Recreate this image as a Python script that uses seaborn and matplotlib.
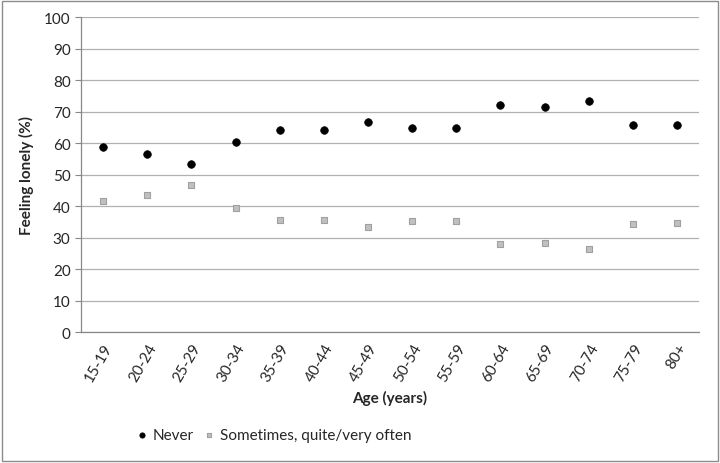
import seaborn as sns
import matplotlib.pyplot as plt
import pandas as pd
from matplotlib.patches import Rectangle
from matplotlib.ticker import FixedLocator

age_groups = ['15-19', '20-24', '25-29', '30-34', '35-39', '40-44', '45-49',
              '50-54', '55-59', '60-64', '65-69', '70-74', '75-79', '80+']
never = [58.6, 56.5, 53.2, 60.4, 64.3, 64.3, 66.8, 64.9, 64.9, 72.2, 71.5, 73.5, 65.6, 65.6]
sometimes = [41.5, 43.5, 46.8, 39.4, 35.6, 35.6, 33.2, 35.1, 35.1, 27.9, 28.4, 26.4, 34.3, 34.5]

sns.set_style("white")
plt.rcParams['font.family'] = ['Lato', 'DejaVu Sans']

df = pd.DataFrame({'age': age_groups, 'pos': range(len(age_groups)),
                   'never': never, 'sometimes': sometimes})

fig = plt.figure(figsize=(7.2, 4.64), dpi=100)
ax = fig.add_axes([0.1125, 0.2823, 0.8585, 0.6787])

sns.scatterplot(data=df, x='pos', y='never', ax=ax, marker='o', s=30,
                color='black', edgecolor='black', linewidth=0.5, label='Never', zorder=3)
sns.scatterplot(data=df, x='pos', y='sometimes', ax=ax, marker='s', s=24,
                color='#c0c0c0', edgecolor='#a0a0a0', linewidth=0.8,
                label='Sometimes, quite/very often', zorder=3)

ax.set_xlim(-0.5, len(age_groups) - 0.5)
ax.set_ylim(0, 100)
ax.set_yticks(range(0, 101, 10))
ax.set_xticks(df['pos'])
ax.set_xticklabels(age_groups, rotation=60, ha='right', rotation_mode='anchor')
ax.xaxis.set_minor_locator(FixedLocator([i - 0.5 for i in range(len(age_groups) + 1)]))
ax.tick_params(axis='x', which='major', length=0, labelsize=11, pad=6)
ax.tick_params(axis='x', which='minor', length=4, color='#888888', direction='out')
ax.tick_params(axis='y', length=4, color='#888888', direction='out', labelsize=11, left=True)

ax.grid(axis='y', color='#b0b0b0', linewidth=0.9)
ax.set_axisbelow(True)
for side in ['top', 'right']:
    ax.spines[side].set_visible(False)
for side in ['left', 'bottom']:
    ax.spines[side].set_color('#888888')
    ax.spines[side].set_linewidth(0.9)

ax.set_xlabel('Age (years)', fontsize=11, fontweight='bold', labelpad=5)
ax.set_ylabel('Feeling lonely (%)', fontsize=11, fontweight='bold', labelpad=7)

ax.legend(loc='center', bbox_to_anchor=(0.38, 0.06), bbox_transform=fig.transFigure,
          ncol=2, frameon=False, fontsize=11, handlelength=0.8, handletextpad=0.3,
          columnspacing=0.6, markerscale=0.7)

fig.patches.append(Rectangle((0.003, 0.004), 0.994, 0.992, transform=fig.transFigure,
                             fill=False, edgecolor='#8c8c8c', linewidth=1.0))

fig.savefig('out.png', dpi=100)
